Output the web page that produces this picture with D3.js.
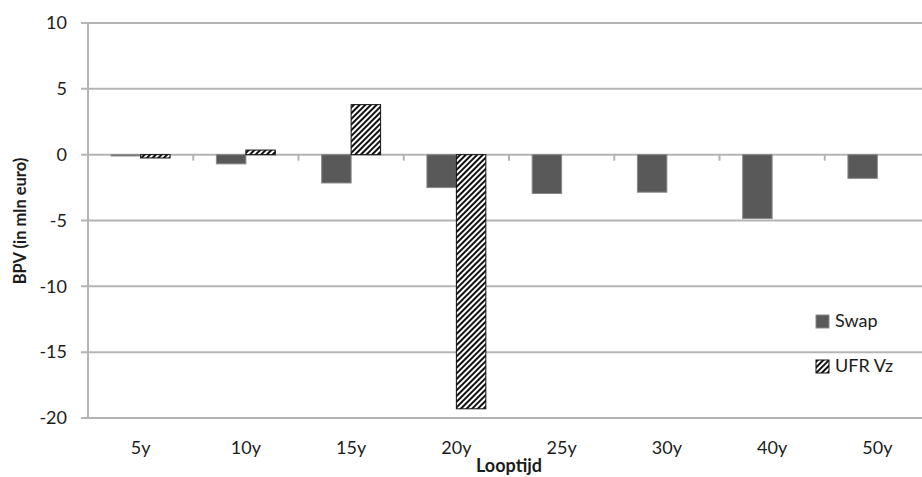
<!DOCTYPE html>
<html>
<head>
<meta charset="utf-8">
<script src="https://cdn.jsdelivr.net/npm/d3@7"></script>
<style>
  body { margin: 0; background: #fff; }
  text { font-family: Lato, "Open Sans", sans-serif; fill: #1c1c1c; }
</style>
</head>
<body>
<div id="chart"></div>
<script>
// data
let categories = ["5y", "10y", "15y", "20y", "25y", "30y", "40y", "50y"];
let swapValues = [-0.1, -0.7, -2.15, -2.5, -2.95, -2.85, -4.85, -1.8];
let ufrValues = [-0.25, 0.35, 3.8, -19.3, 0, 0, 0, 0];
let seriesNames = ["Swap", "UFR Vz"];
let yTicks = [10, 5, 0, -5, -10, -15, -20];

let width = 922, height = 477;
let margin = {top: 23, right: -8, bottom: 59, left: 88};

let svg = d3.select("#chart").append("svg")
    .attr("width", width)
    .attr("height", height);

// hatch pattern for UFR Vz
let defs = svg.append("defs");
let pat = defs.append("pattern")
    .attr("id", "hatch")
    .attr("patternUnits", "userSpaceOnUse")
    .attr("width", 4)
    .attr("height", 4)
    .attr("patternTransform", "rotate(45)");
pat.append("rect").attr("width", 4).attr("height", 4).attr("fill", "#fff");
pat.append("rect").attr("width", 2).attr("height", 4).attr("fill", "#111");

let x0 = d3.scaleBand()
    .domain(categories)
    .range([margin.left, width - margin.right])
    .paddingInner(0.44)
    .paddingOuter(0.22);

let x1 = d3.scaleBand()
    .domain(seriesNames)
    .range([0, x0.bandwidth()]);

let y = d3.scaleLinear()
    .domain([-20, 10])
    .range([height - margin.bottom, margin.top]);

// gridlines
svg.append("g")
  .selectAll("line")
  .data(yTicks)
  .join("line")
    .attr("x1", margin.left - 7)
    .attr("x2", width - margin.right)
    .attr("y1", d => y(d))
    .attr("y2", d => y(d))
    .attr("stroke", "#b4b4b4")
    .attr("stroke-width", 2);

// vertical axis line
svg.append("line")
    .attr("x1", margin.left).attr("x2", margin.left)
    .attr("y1", y(10)).attr("y2", y(-20))
    .attr("stroke", "#b4b4b4")
    .attr("stroke-width", 2);

// y tick labels
svg.append("g")
  .selectAll("text")
  .data(yTicks)
  .join("text")
    .attr("x", 67)
    .attr("y", d => y(d))
    .attr("dy", "0.35em")
    .attr("text-anchor", "end")
    .style("font-size", "18px")
    .text(d => d);

// category ticks on zero line
let step = x0.step();
svg.append("g")
  .selectAll("line")
  .data(categories.slice(1))
  .join("line")
    .attr("x1", d => x0(d) - step * 0.22)
    .attr("x2", d => x0(d) - step * 0.22)
    .attr("y1", y(0))
    .attr("y2", y(0) + 6)
    .attr("stroke", "#b4b4b4")
    .attr("stroke-width", 2);

// bars
let rows = categories.map((c, i) => ({cat: c, Swap: swapValues[i], "UFR Vz": ufrValues[i]}));

let groups = svg.append("g")
  .selectAll("g")
  .data(rows)
  .join("g")
    .attr("transform", d => `translate(${x0(d.cat)},0)`);

groups.selectAll("rect")
  .data(d => seriesNames.map(s => ({key: s, value: d[s]})).filter(v => v.value !== 0))
  .join("rect")
    .attr("x", d => x1(d.key))
    .attr("width", x1.bandwidth())
    .attr("y", d => Math.min(y(d.value), y(0)))
    .attr("height", d => Math.abs(y(d.value) - y(0)))
    .attr("fill", d => d.key === "Swap" ? "#595959" : "url(#hatch)")
    .attr("stroke", d => d.key === "Swap" ? "#8a8a8a" : "#111")
    .attr("stroke-width", 1);

// x labels
svg.append("g")
  .selectAll("text")
  .data(categories)
  .join("text")
    .attr("x", d => x0(d) + x0.bandwidth() / 2)
    .attr("y", 448)
    .attr("dy", "0.35em")
    .attr("text-anchor", "middle")
    .style("font-size", "18px")
    .text(d => d);

// axis titles
svg.append("text")
    .attr("x", (margin.left + width - margin.right) / 2)
    .attr("y", 466)
    .attr("dy", "0.35em")
    .attr("text-anchor", "middle")
    .style("font-size", "18px")
    .style("font-weight", "bold")
    .text("Looptijd");

svg.append("text")
    .attr("transform", "translate(20,221) rotate(-90)")
    .attr("dy", "0.35em")
    .attr("text-anchor", "middle")
    .style("font-size", "16.5px")
    .style("font-weight", "bold")
    .text("BPV (in mln euro)");

// legend
let legend = svg.append("g")
  .selectAll("g")
  .data(seriesNames)
  .join("g")
    .attr("transform", (d, i) => `translate(816,${321 + i * 45})`);

legend.append("rect")
    .attr("x", 0)
    .attr("y", -6)
    .attr("width", 13)
    .attr("height", 13)
    .attr("fill", d => d === "Swap" ? "#595959" : "url(#hatch)")
    .attr("stroke", d => d === "Swap" ? "#8a8a8a" : "#111");

legend.append("text")
    .attr("x", 19)
    .attr("y", 0)
    .attr("dy", "0.35em")
    .style("font-size", "18px")
    .text(d => d);
</script>
</body>
</html>
